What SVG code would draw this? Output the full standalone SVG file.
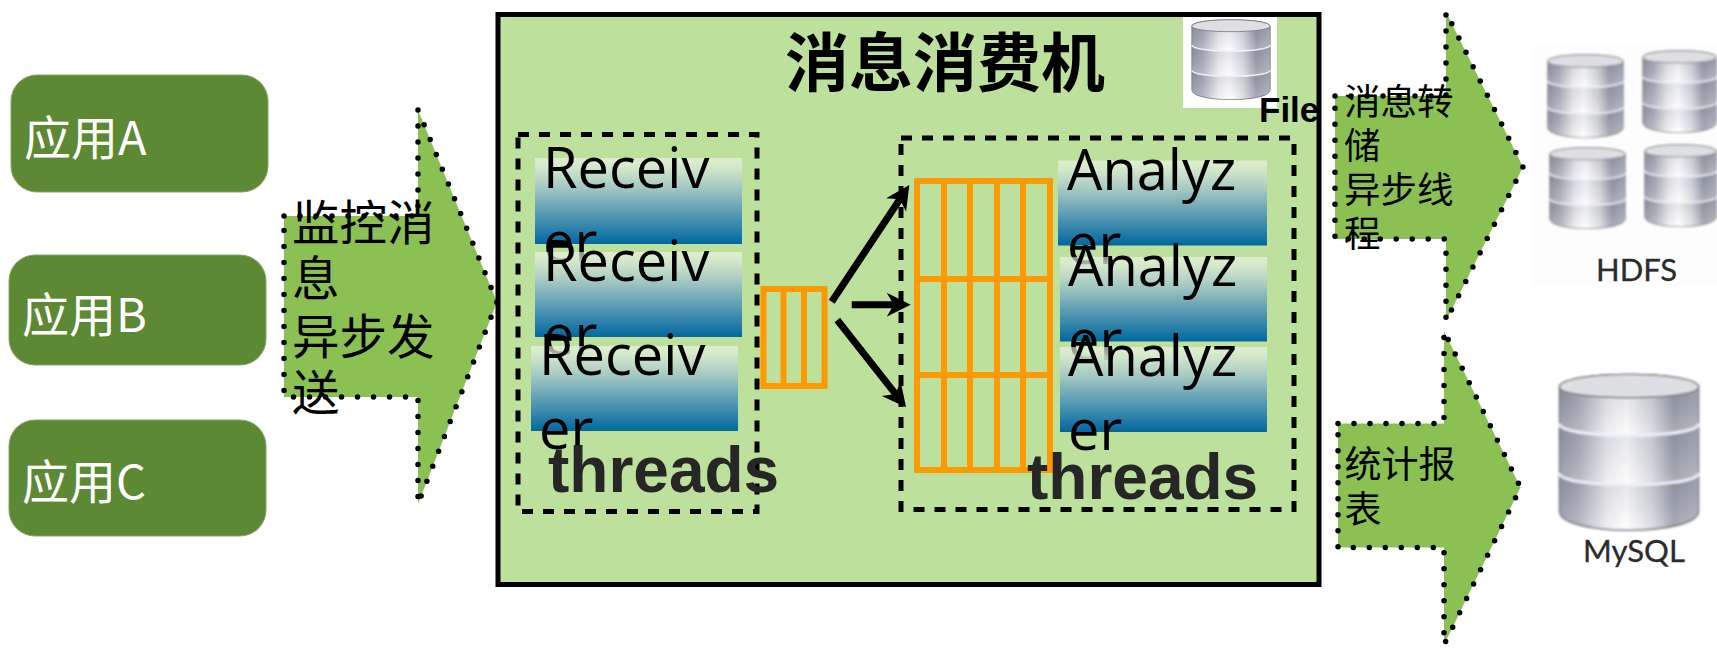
<svg xmlns="http://www.w3.org/2000/svg" xmlns:xlink="http://www.w3.org/1999/xlink" width="1717" height="649" viewBox="0 0 1717 649">
<style>
text{font-family:"Noto Sans CJK SC","Noto Sans",sans-serif;fill:#000}
.app{fill:#5d8834;stroke:#86a568;stroke-width:1}
.appt{fill:#fff;font-size:47px}
.arrow{fill:#8ac152;stroke:#000;stroke-width:5.500;stroke-linecap:round;stroke-linejoin:round;stroke-dasharray:0 16}
.box{fill:url(#bar)}
.lat{font-family:"Open Sans","Noto Sans",sans-serif;font-size:56px}
.dash{fill:none;stroke:#000;stroke-width:5;stroke-dasharray:11 10}
.thr{font-family:"Liberation Sans",Arial,sans-serif;font-weight:700;font-size:64px;fill:#262626}
.q{fill:none;stroke:#ff9900;stroke-width:6}
.conn{stroke:#000;stroke-width:7;fill:none;marker-end:url(#head)}
.t47{font-size:47.500px}.t36{font-size:36.500px}
.lbl{font-family:Lato,"Noto Sans",sans-serif;font-size:31px;fill:#2c2c2c;stroke:#2c2c2c;stroke-width:.3}
</style>
<defs>
<linearGradient id="bar" x1="0" y1="0" x2="0" y2="1">
<stop offset="0" stop-color="#f7f9f2" stop-opacity=".55"/>
<stop offset=".12" stop-color="#d5e6d2" stop-opacity=".85"/>
<stop offset=".5" stop-color="#7db0bb"/>
<stop offset="1" stop-color="#0068a0"/>
</linearGradient>
<linearGradient id="cy" x1="0" y1="0" x2="1" y2="0">
<stop offset="0" stop-color="#8c8f9c"/>
<stop offset=".14" stop-color="#a4a7b3"/>
<stop offset=".34" stop-color="#ececef"/>
<stop offset=".48" stop-color="#ffffff"/>
<stop offset=".66" stop-color="#d6d7dc"/>
<stop offset=".82" stop-color="#8f93a1"/>
<stop offset="1" stop-color="#a5a8b4"/>
</linearGradient>
<linearGradient id="cs" x1="0" y1="0" x2="0" y2="1">
<stop offset="0" stop-color="#6a7083" stop-opacity=".18"/>
<stop offset="1" stop-color="#fff" stop-opacity=".25"/>
</linearGradient>
<symbol id="cyl" viewBox="0 0 100 112" preserveAspectRatio="none">
<path d="M1,10 C1,-2 99,-2 99,10 V98 C99,116 1,116 1,98 Z" fill="url(#cy)" stroke="#77777c" stroke-width="1"/>
<path d="M1,10 C1,20 99,20 99,10 C99,-2 1,-2 1,10 Z" fill="#dedfe2" stroke="#707074" stroke-width="1"/>
<path d="M1,10 C1,20 99,20 99,10 V36 C99,47 1,47 1,36 Z" fill="url(#cs)"/>
<path d="M1,37 C1,48 99,48 99,37 V71 C99,82 1,82 1,71 Z" fill="url(#cs)"/>
<path d="M1,72 C1,83 99,83 99,72 V98 C99,114 1,114 1,98 Z" fill="url(#cs)"/>
<path d="M1,36 C1,47 99,47 99,36" fill="none" stroke="#eef0f6" stroke-width="2"/>
<path d="M1,71 C1,82 99,82 99,71" fill="none" stroke="#eef0f6" stroke-width="2"/>
</symbol>
<filter id="soft" x="-5%" y="-5%" width="110%" height="110%"><feGaussianBlur stdDeviation=".8"/></filter>
<marker id="head" markerUnits="userSpaceOnUse" markerWidth="26" markerHeight="26" refX="12" refY="12" orient="auto">
<path d="M0,0 L24,12 L0,24 L7,12 Z" fill="#000"/>
</marker>
</defs>

<g id="app-a"><rect class="app" x="11" y="75" width="257" height="117" rx="26"/><text class="appt" x="24" y="155">应用A</text></g>
<g id="app-b"><rect class="app" x="9" y="255" width="257" height="110" rx="26"/><text class="appt" x="22" y="332">应用B</text></g>
<g id="app-c"><rect class="app" x="9" y="420" width="257" height="116" rx="26"/><text class="appt" x="22" y="499">应用C</text></g>

<g id="arrow-monitor">
<path class="arrow" d="M284,216 H418 V110 L497,302 L418,504 V397 H284 Z"/>
<text class="t47"><tspan x="292" y="240">监控消</tspan><tspan x="292" y="296">息</tspan><tspan x="292" y="354">异步发</tspan><tspan x="292" y="410">送</tspan></text>
</g>

<g id="consumer">
<rect x="498" y="14.500" width="821" height="570" fill="#bde09c" stroke="#000" stroke-width="5"/>
<text x="785" y="86" font-size="64" font-weight="700">消息消费机</text>
</g>

<g id="file-db">
<rect x="1183" y="17" width="94" height="91" fill="#fff"/>
<use xlink:href="#cyl" href="#cyl" x="1191" y="19" width="80" height="81"/>
<text x="1259" y="122" style="font-family:'Liberation Sans',Arial,sans-serif;font-weight:700;font-size:35px">File</text>
</g>

<g id="receivers">
<rect class="dash" x="518" y="134.500" width="239" height="377"/>
<g id="receiver-1"><rect class="box" x="535" y="158" width="207" height="86"/><text class="lat"><tspan x="543" y="188">Receiv</tspan><tspan x="543" y="262">er</tspan></text></g>
<g id="receiver-2"><rect class="box" x="535" y="252" width="207" height="85"/><text class="lat"><tspan x="543" y="281">Receiv</tspan><tspan x="543" y="355">er</tspan></text></g>
<g id="receiver-3"><rect class="box" x="531" y="346" width="207" height="85"/><text class="lat"><tspan x="539" y="375">Receiv</tspan><tspan x="539" y="449">er</tspan></text></g>
<text class="thr" x="548" y="491.500">threads</text>
</g>

<g id="small-queue">
<rect class="q" x="763.500" y="289" width="61" height="97"/>
<path class="q" d="M783.500,289 V386 M804,289 V386"/>
</g>

<g id="connectors">
<path class="conn" d="M831.700,301.700 L902.700,195"/>
<path class="conn" d="M851.700,304.700 H898.700"/>
<path class="conn" d="M837.300,320 L898.600,397.900"/>
</g>

<g id="analyzers">
<rect class="dash" x="901" y="138" width="393" height="371.500"/>
<g id="big-queue">
<rect class="q" x="917" y="181" width="133" height="289"/>
<path class="q" d="M944,181 V470 M970,181 V470 M997,181 V470 M1023,181 V470 M917,279 H1050 M917,375 H1050"/>
</g>
<g id="analyzer-1"><rect class="box" x="1058" y="160.500" width="209" height="85"/><text class="lat"><tspan x="1067" y="190">Analyz</tspan><tspan x="1067" y="264">er</tspan></text></g>
<g id="analyzer-2"><rect class="box" x="1060" y="257" width="207" height="84.500"/><text class="lat"><tspan x="1068" y="286">Analyz</tspan><tspan x="1068" y="360">er</tspan></text></g>
<g id="analyzer-3"><rect class="box" x="1060" y="347" width="207" height="85"/><text class="lat"><tspan x="1068" y="376">Analyz</tspan><tspan x="1068" y="450">er</tspan></text></g>
<text class="thr" x="1027" y="498.500">threads</text>
</g>

<g id="arrow-dump">
<path class="arrow" d="M1335,96 H1446 V12 L1523,167 L1446,321 V239 H1335 Z"/>
<text class="t36"><tspan x="1344" y="115">消息转</tspan><tspan x="1344" y="159">储</tspan><tspan x="1344" y="203">异步线</tspan><tspan x="1344" y="247">程</tspan></text>
</g>

<g id="arrow-report">
<path class="arrow" d="M1338,423.500 H1444 V331 L1520.500,487.500 L1444,645 V547.500 H1338 Z"/>
<text style="font-size:37px"><tspan x="1344.500" y="478">统计报</tspan><tspan x="1344.500" y="523">表</tspan></text>
</g>

<g id="hdfs">
<rect x="1532" y="46" width="185" height="240" fill="#fdfdfd"/>
<g filter="url(#soft)">
<use xlink:href="#cyl" href="#cyl" x="1547" y="54" width="77" height="84"/>
<use xlink:href="#cyl" href="#cyl" x="1642" y="50" width="75" height="83"/>
<use xlink:href="#cyl" href="#cyl" x="1549" y="147" width="77" height="82"/>
<use xlink:href="#cyl" href="#cyl" x="1644" y="144" width="73" height="83"/>
</g>
<text class="lbl" x="1596" y="281">HDFS</text>
</g>

<g id="mysql">
<use xlink:href="#cyl" href="#cyl" x="1558" y="373" width="142" height="158" filter="url(#soft)"/>
<text class="lbl" x="1583" y="562">MySQL</text>
</g>
</svg>
